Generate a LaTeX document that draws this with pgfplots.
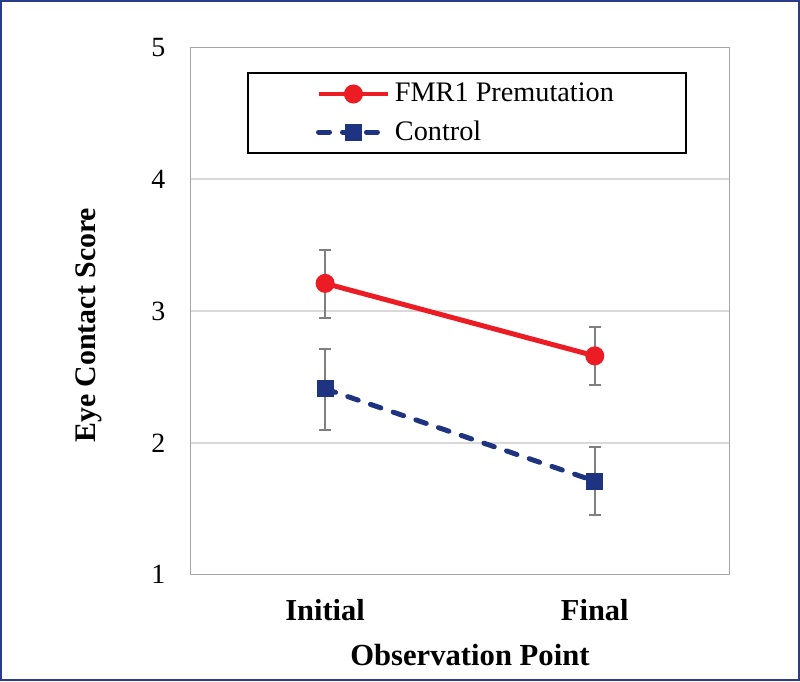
\documentclass[border=0pt]{standalone}
\usepackage{fontspec}
\setmainfont{Liberation Serif}
\usepackage{pgfplots}
\pgfplotsset{compat=1.18}
\definecolor{fmrred}{HTML}{EC1C24}
\definecolor{ctlnavy}{HTML}{1F3480}
\definecolor{framenavy}{HTML}{2B3C8C}
\definecolor{errgray}{HTML}{7F7F7F}
\definecolor{gridgray}{HTML}{D9D9D9}
\definecolor{axgray}{HTML}{A6A6A6}
\begin{document}
\begin{tikzpicture}
\begin{axis}[
 scale only axis, width=270bp, height=264bp,
 xmin=-0.5, xmax=1.5, ymin=1, ymax=5,
 xtick={0,1}, xticklabels={Initial, Final},
 ytick={1,2,3,4,5},
 ymajorgrids, grid style={gridgray, line width=0.75bp},
 axis line style={axgray, line width=0.75bp},
 major tick length=0pt,
 tick style={draw=none},
 /pgf/number format/assume math mode=true,
 yticklabel style={anchor=center, xshift=-16bp, font=\rmfamily\fontsize{14}{16}\selectfont},
 xticklabel style={anchor=center, yshift=-17.5bp, font=\rmfamily\bfseries\fontsize{15.3}{18}\selectfont},
 xlabel={Observation Point}, ylabel={Eye Contact Score},
 every axis x label/.style={at={(axis description cs:0.5185,-0.1515)}, anchor=center, font=\rmfamily\bfseries\fontsize{15.4}{18}\selectfont},
 every axis y label/.style={at={(axis description cs:-0.189,0.473)}, anchor=center, rotate=90, font=\rmfamily\bfseries\fontsize{15}{18}\selectfont},
 clip=false,
 legend style={at={(0.513,0.953)}, anchor=north, draw=black, line width=1bp, inner xsep=34bp, inner ysep=3bp, row sep=4bp, font=\rmfamily\fontsize{14.2}{16}\selectfont},
 legend cell align=left,
 legend image code/.code={\draw[mark repeat=2,mark phase=2] plot coordinates {(0bp,0bp) (17.5bp,0bp) (35bp,0bp)};},
]
\addplot[fmrred, line width=2.5bp, mark=*, mark size=3.5bp, mark options={solid, fill=fmrred},
  error bars/.cd, y dir=both, y explicit,
  error bar style={errgray, line width=1bp, solid},
  error mark options={rotate=90, errgray, mark size=3bp, line width=1bp}]
 coordinates {(0,3.21) += (0,0.25) -= (0,0.26) (1,2.66) += (0,0.22) -= (0,0.22)};
\addlegendentry{FMR1 Premutation}
\addplot[ctlnavy, line width=2.5bp, dash pattern=on 5.5bp off 6.5bp, line cap=round, mark=square*, mark size=3bp, mark options={solid, fill=ctlnavy},
  error bars/.cd, y dir=both, y explicit,
  error bar style={errgray, line width=1bp, solid},
  error mark options={rotate=90, errgray, mark size=3bp, line width=1bp}]
 coordinates {(0,2.41) += (0,0.30) -= (0,0.31) (1,1.71) += (0,0.26) -= (0,0.26)};
\addlegendentry{Control}
\draw[framenavy, line width=1bp] (rel axis cs:-0.3510,-0.1999) rectangle (rel axis cs:1.1287,1.0880);
\end{axis}
\end{tikzpicture}
\end{document}
